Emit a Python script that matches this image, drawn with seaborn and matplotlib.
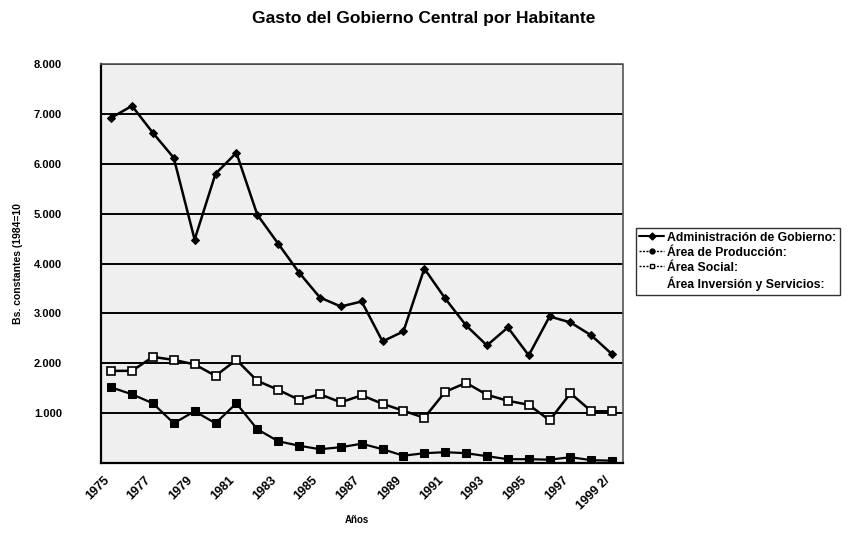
import numpy as np
import pandas as pd
import seaborn as sns
import matplotlib.pyplot as plt
import matplotlib.transforms as mtransforms
from matplotlib.lines import Line2D
from matplotlib.ticker import FuncFormatter

# Datos
years = list(range(1975, 2000))
year_labels = [str(y) for y in years]
year_labels[-1] = "1999 2/"

admin = [6920, 7160, 6620, 6120, 4480, 5800, 6220, 4980, 4400, 3820, 3320, 3140, 3240,
         2440, 2640, 3900, 3300, 2760, 2360, 2720, 2160, 2940, 2820, 2560, 2180]
social = [1850, 1850, 2130, 2070, 1980, 1750, 2070, 1650, 1470, 1270, 1380, 1220, 1360,
          1190, 1050, 910, 1430, 1610, 1370, 1250, 1170, 860, 1400, 1040, 1040]
produccion = [1520, 1380, 1200, 800, 1040, 800, 1200, 680, 440, 350, 280, 320, 390,
              280, 150, 200, 220, 200, 140, 80, 80, 70, 120, 60, 50]

series_names = ["Administración de Gobierno:", "Área de Producción:", "Área Social:",
                "Área Inversión y Servicios:"]

df = pd.DataFrame({"idx": np.arange(len(years)), "admin": admin,
                   "social": social, "produccion": produccion})

sns.set_style("white")
plt.rcParams['font.family'] = ['Liberation Sans', 'DejaVu Sans']
plt.rcParams['font.weight'] = 'bold'
plt.rcParams['text.color'] = 'black'
plt.rcParams['axes.labelcolor'] = 'black'
plt.rcParams['xtick.color'] = 'black'
plt.rcParams['ytick.color'] = 'black'

fig = plt.figure(figsize=(8.53, 5.33), dpi=100)
ax = fig.add_axes([0.118, 0.131, 0.612, 0.749])
ax.set_facecolor('#efefef')

# Lineas de cuadricula
for v in range(1000, 9000, 1000):
    ax.axhline(v, color='black', lw=1.4, zorder=1)

sns.lineplot(data=df, x="idx", y="admin", ax=ax, color='black', lw=1.8,
             marker='D', markersize=4.5, markeredgecolor='black', zorder=3)
sns.lineplot(data=df, x="idx", y="social", ax=ax, color='black', lw=1.8,
             marker='s', markersize=5.5, markerfacecolor='white',
             markeredgecolor='black', markeredgewidth=1.2, zorder=3)
sns.lineplot(data=df, x="idx", y="produccion", ax=ax, color='black', lw=1.6,
             marker='s', markersize=5.5, markeredgecolor='black', zorder=3)

ax.set_xlim(-0.5, len(years) - 0.5)
ax.set_ylim(0, 8000)

# Eje Y
ax.set_yticks(range(0, 9000, 1000))
ax.yaxis.set_major_formatter(FuncFormatter(
    lambda v, p: "" if v == 0 else f"{int(v):,}".replace(",", ".")))
ax.tick_params(axis='y', direction='inout', length=6, width=1, pad=25, labelsize=8)

# Eje X
ax.set_xticks(np.arange(-0.5, len(years), 1), minor=True)
ax.set_xticks(np.arange(0, len(years), 2))
ax.set_xticklabels(year_labels[::2], rotation=45, ha='right', rotation_mode='anchor',
                   fontsize=9)
ax.tick_params(axis='x', which='major', length=0, pad=8)
ax.tick_params(axis='x', which='minor', direction='inout', length=5, width=1)
offset = mtransforms.ScaledTranslation(-8 / 100, 0, fig.dpi_scale_trans)
for lab in ax.get_xticklabels():
    lab.set_transform(lab.get_transform() + offset)

for s in ['left', 'bottom']:
    ax.spines[s].set_color('black')
    ax.spines[s].set_linewidth(1.6)
for s in ['top', 'right']:
    ax.spines[s].set_color('#555555')
    ax.spines[s].set_linewidth(1.2)
    ax.spines[s].set_linestyle((0, (1, 1)))

ax.set_xlabel("")
fig.text(0.418, 0.024, "Años", fontsize=7, fontweight='bold', ha='center', va='center')
ax.set_ylabel("Bs. constantes (1984=10", fontsize=7.5, fontweight='bold', labelpad=8)

fig.suptitle("Gasto del Gobierno Central por Habitante", x=0.497, y=0.98,
             fontsize=12.5, fontweight='bold')

handles = [
    Line2D([], [], color='black', lw=1.5, marker='D', markersize=3.5),
    Line2D([], [], color='black', lw=1, ls=(0, (1.5, 1)), marker='o', markersize=3.5),
    Line2D([], [], color='black', lw=1, ls=(0, (1.5, 1)), marker='s', markersize=3.5,
           markerfacecolor='white'),
    Line2D([], [], ls='none'),
]
leg = fig.legend(handles, series_names, loc='upper left', bbox_to_anchor=(0.738, 0.584),
                 fontsize=8.8, frameon=True, fancybox=False, handlelength=2.0,
                 handletextpad=0.3, labelspacing=0.25, borderpad=0.3)
leg.get_frame().set_edgecolor('black')
leg.get_frame().set_linewidth(1)

fig.savefig("out.png", dpi=100)
